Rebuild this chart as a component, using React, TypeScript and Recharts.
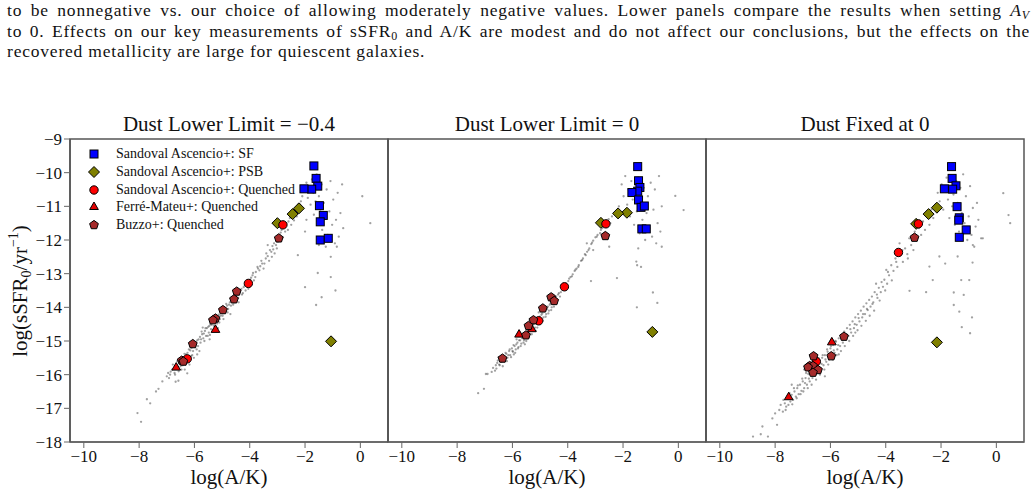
import { ScatterChart, Scatter, XAxis, YAxis, ReferenceArea } from 'recharts'

type Pt = [number, number]

// ---- Dust Lower Limit = -0.4 ----
const cloudLow: Pt[] = [
  [-8.06, -17.14], [-7.93, -17.4], [-7.72, -16.73], [-7.6, -16.85], [-7.39, -16.5], [-7.3, -16.42],
  [-7.16, -16.2], [-7.0, -16.05], [-6.86, -15.91], [-6.68, -16.21], [-6.58, -16.18], [-6.26, -15.96],
  [-6.8, -15.85], [-6.72, -15.95], [-6.65, -15.7], [-6.6, -15.8], [-6.55, -15.62], [-6.5, -15.75],
  [-6.45, -15.5], [-6.4, -15.48], [-6.38, -15.65], [-6.3, -15.4], [-6.25, -15.35], [-6.22, -15.55],
  [-6.15, -15.28], [-6.1, -15.2], [-6.08, -15.42], [-6.0, -15.1], [-5.95, -15.05], [-5.92, -15.25],
  [-5.85, -14.95], [-5.8, -14.88], [-5.78, -15.05], [-5.72, -14.8], [-5.68, -14.92], [-5.62, -14.7],
  [-5.58, -14.85], [-5.55, -14.62], [-5.5, -14.58], [-5.48, -14.75], [-5.42, -14.5], [-5.4, -14.65],
  [-5.35, -14.42], [-5.3, -14.55], [-5.25, -14.35], [-5.2, -14.28], [-5.18, -14.48], [-5.12, -14.22],
  [-5.08, -14.35], [-5.02, -14.15], [-4.98, -14.25], [-4.92, -14.02], [-4.88, -14.1], [-4.82, -13.95],
  [-4.78, -14.05], [-4.72, -13.85], [-4.65, -13.8], [-4.6, -13.92], [-4.55, -13.7], [-4.48, -13.62],
  [-4.42, -13.72], [-4.38, -13.55], [-4.3, -13.45], [-4.25, -13.58], [-6.92, -16.1], [-6.35, -15.85],
  [-5.9, -15.4], [-5.45, -14.95], [-5.7, -14.6], [-6.05, -14.98], [-5.15, -14.62], [-4.7, -14.2],
  [-4.18, -13.35], [-4.1, -13.28], [-4.05, -13.45], [-3.98, -13.18], [-3.9, -13.05], [-3.85, -13.2],
  [-3.78, -12.95], [-3.7, -12.85], [-3.62, -12.78], [-3.55, -12.7], [-3.5, -12.85], [-3.42, -12.55],
  [-3.35, -12.48], [-3.3, -12.62], [-3.22, -12.35], [-3.15, -12.28], [-3.1, -12.4], [-3.05, -12.15],
  [-2.98, -12.05], [-3.35, -12.15], [-3.2, -12.5], [-2.92, -11.85], [-2.85, -11.7], [-2.8, -11.92],
  [-2.75, -11.6], [-2.68, -11.5], [-2.62, -11.7], [-2.55, -11.35], [-2.5, -11.55], [-2.45, -11.2],
  [-2.4, -11.42], [-2.35, -11.1], [-2.3, -11.3], [-2.25, -10.95], [-2.2, -11.15], [-2.15, -10.85],
  [-2.1, -10.7], [-2.05, -10.55], [-1.95, -10.3], [-1.9, -10.75], [-1.85, -10.45], [-1.8, -10.95],
  [-1.75, -10.2], [-1.7, -10.6], [-1.68, -11.25], [-1.62, -10.85], [-1.58, -10.05], [-1.55, -11.45],
  [-1.5, -10.7], [-1.45, -11.1], [-1.4, -10.35], [-1.38, -11.7], [-1.32, -10.9], [-1.28, -11.35],
  [-1.22, -10.5], [-1.18, -11.85], [-1.12, -11.15], [-1.08, -10.25], [-1.02, -11.55], [-0.98, -10.8],
  [-0.92, -12.1], [-0.88, -11.4], [-0.82, -10.6], [-0.78, -11.9], [-0.72, -11.2], [-0.66, -10.35],
  [-0.62, -11.65], [-1.5, -12.15], [-1.25, -12.2], [-0.85, -12.2], [-1.95, -11.4], [-2.0, -11.75],
  [0.07, -10.7], [0.36, -11.5], [-2.26, -12.45], [-1.07, -12.5], [-1.54, -12.98], [-1.07, -13.1],
  [-0.9, -13.5], [-1.6, -13.93], [-2.0, -13.4], [-1.4, -13.7],
  [-6.95, -15.95], [-6.88, -16.0], [-6.78, -15.7], [-6.7, -16.0], [-6.62, -15.6], [-6.57, -15.9],
  [-6.52, -15.55], [-6.47, -15.85], [-6.42, -15.72], [-6.36, -15.38], [-6.33, -15.6], [-6.27, -15.5],
  [-6.2, -15.25], [-6.18, -15.7], [-6.12, -15.45], [-6.05, -15.3], [-6.02, -15.5], [-5.97, -15.18],
  [-5.9, -14.98], [-5.87, -15.15], [-5.82, -15.3], [-5.76, -14.95], [-5.74, -14.72], [-5.66, -14.78],
  [-5.64, -15.0], [-5.6, -14.62], [-5.52, -14.85], [-5.46, -14.55], [-5.44, -14.82], [-5.38, -14.52],
  [-5.32, -14.7], [-5.28, -14.45], [-5.22, -14.58], [-5.16, -14.3], [-5.1, -14.45], [-5.05, -14.25],
  [-5.0, -14.05], [-4.95, -14.35], [-4.9, -14.15], [-4.85, -13.9], [-4.8, -14.15], [-4.75, -13.92],
  [-4.68, -13.95], [-4.62, -13.72], [-4.57, -13.85], [-4.5, -13.75], [-4.45, -13.58], [-4.4, -13.85],
  [-4.35, -13.5], [-4.28, -13.62], [-4.22, -13.4], [-4.15, -13.5], [-4.08, -13.2], [-4.0, -13.3],
  [-3.95, -13.12], [-3.88, -12.98], [-3.8, -13.1], [-3.72, -12.8], [-3.65, -12.9], [-3.58, -12.62],
  [-3.47, -12.7], [-3.4, -12.4], [-3.27, -12.3], [-3.18, -12.18], [-3.12, -12.1], [-3.02, -12.25],
  [-2.95, -11.95], [-2.88, -11.78], [-2.72, -11.75], [-2.6, -11.45], [-2.52, -11.3], [-2.38, -11.25],
  [-2.28, -11.05], [-2.18, -10.95],
]
const sfLow: Pt[] = [
  [-1.68, -9.8], [-1.6, -10.17], [-1.54, -10.4], [-1.76, -10.49], [-2.04, -10.48],
  [-1.48, -10.98], [-1.34, -11.27], [-1.45, -11.46], [-1.45, -12.0], [-1.16, -11.95],
]
const psbLow: Pt[] = [[-2.22, -11.06], [-2.45, -11.23], [-3.0, -11.5], [-1.06, -15.01]]
const sandQLow: Pt[] = [[-2.8, -11.55], [-4.05, -13.29], [-6.26, -15.53]]
const ferreLow: Pt[] = [[-6.66, -15.79], [-5.24, -14.67]]
const buzzoLow: Pt[] = [
  [-2.95, -11.95], [-4.47, -13.53], [-4.57, -13.76], [-4.97, -14.08], [-5.24, -14.33],
  [-5.33, -14.38], [-6.06, -15.09], [-6.46, -15.58], [-6.4, -15.61],
]

// ---- Dust Lower Limit = 0 ----
const cloudZero: Pt[] = [
  [-7.24, -16.55], [-7.03, -16.42], [-6.96, -15.98], [-6.9, -15.98], [-6.75, -15.92], [-6.7, -15.8],
  [-6.63, -15.88], [-6.6, -15.72], [-6.55, -15.65], [-6.48, -15.7], [-6.45, -15.55], [-6.4, -15.62],
  [-6.32, -15.45], [-6.28, -15.58], [-6.22, -15.38], [-6.18, -15.5], [-6.12, -15.3], [-6.08, -15.42],
  [-6.02, -15.22], [-5.98, -15.32], [-5.92, -15.15], [-5.88, -15.25], [-5.82, -15.05], [-5.78, -15.18],
  [-5.72, -14.98], [-5.68, -15.08], [-5.62, -14.88], [-5.58, -14.98], [-5.52, -14.78], [-5.48, -14.9],
  [-5.42, -14.68], [-5.38, -14.8], [-5.32, -14.58], [-5.28, -14.7], [-5.22, -14.48], [-5.18, -14.6],
  [-5.12, -14.38], [-5.08, -14.5], [-5.02, -14.28], [-4.98, -14.4], [-4.92, -14.18], [-4.88, -14.3],
  [-4.82, -14.08], [-4.78, -14.2], [-4.72, -13.98], [-4.68, -14.1], [-4.62, -13.88], [-4.58, -14.0],
  [-4.52, -13.78], [-4.48, -13.9], [-4.42, -13.68], [-4.38, -13.78], [-4.32, -13.58], [-4.28, -13.68],
  [-6.35, -15.75], [-5.95, -15.4], [-5.55, -15.1], [-5.15, -14.7], [-6.5, -15.48], [-5.85, -14.95],
  [-5.05, -14.15], [-4.2, -13.48], [-4.12, -13.4], [-4.05, -13.3], [-3.98, -13.22], [-3.9, -13.1],
  [-3.82, -13.02], [-3.75, -12.92], [-3.68, -12.85], [-3.6, -12.75], [-3.52, -12.62], [-3.45, -12.55],
  [-3.38, -12.42], [-3.31, -12.1], [-3.3, -12.35], [-3.22, -12.25], [-3.15, -12.12], [-3.08, -12.02],
  [-3.08, -12.3], [-3.0, -11.92], [-2.92, -11.85], [-2.83, -11.8], [-2.75, -11.65], [-2.68, -11.55],
  [-2.58, -11.45], [-2.46, -11.5], [-2.4, -11.3], [-2.3, -11.2], [-2.22, -11.11], [-2.15, -11.0],
  [-2.05, -10.35], [-1.98, -10.7], [-1.92, -10.1], [-1.85, -10.95], [-1.8, -10.5], [-1.75, -11.3],
  [-1.7, -10.25], [-1.65, -10.8], [-1.6, -11.55], [-1.55, -10.6], [-1.5, -11.15], [-1.45, -10.15],
  [-1.4, -11.8], [-1.35, -10.9], [-1.3, -11.4], [-1.25, -10.45], [-1.2, -12.0], [-1.15, -11.2],
  [-1.1, -10.7], [-1.05, -11.65], [-1.0, -10.3], [-0.95, -11.9], [-0.9, -11.1], [-0.85, -10.5],
  [-0.8, -12.1], [-0.75, -11.5], [-0.7, -10.1], [-0.65, -11.75], [-0.6, -12.2], [-1.45, -12.25],
  [-0.11, -10.69], [0.19, -11.11], [-1.52, -12.64], [-1.49, -12.75], [-1.35, -12.8], [-2.22, -13.13],
  [-0.92, -13.56], [-0.76, -13.87], [-3.16, -13.22], [-1.5, -14.0], [-2.5, -12.2], [-0.6, -11.0],
  [-6.58, -15.82], [-6.53, -15.58], [-6.46, -15.72], [-6.42, -15.48], [-6.37, -15.6], [-6.3, -15.52],
  [-6.25, -15.35], [-6.2, -15.6], [-6.15, -15.42], [-6.1, -15.25], [-6.05, -15.48], [-6.0, -15.3],
  [-5.96, -15.12], [-5.9, -15.35], [-5.86, -15.1], [-5.8, -15.22], [-5.76, -14.98], [-5.7, -15.15],
  [-5.65, -14.92], [-5.6, -15.05], [-5.56, -14.82], [-5.5, -15.0], [-5.45, -14.72], [-5.4, -14.88],
  [-5.35, -14.62], [-5.3, -14.8], [-5.25, -14.52], [-5.2, -14.7], [-5.16, -14.42], [-5.1, -14.6],
  [-5.06, -14.35], [-5.0, -14.5], [-4.95, -14.22], [-4.9, -14.4], [-4.85, -14.12], [-4.8, -14.28],
  [-4.75, -14.05], [-4.7, -14.18], [-4.65, -13.92], [-4.6, -14.08], [-4.55, -13.82], [-4.5, -13.98],
  [-4.45, -13.72], [-4.4, -13.88], [-4.35, -13.62], [-4.25, -13.55], [-4.15, -13.45], [-4.08, -13.35],
  [-3.95, -13.15], [-3.85, -13.08], [-3.72, -12.88], [-3.62, -12.8], [-3.48, -12.6], [-3.35, -12.45],
  [-3.25, -12.3], [-3.12, -12.08], [-2.95, -11.9], [-2.8, -11.7], [-2.62, -11.5], [-2.52, -11.38],
]
const sfZero: Pt[] = [
  [-1.47, -9.82], [-1.44, -10.24], [-1.39, -10.44], [-1.47, -10.55], [-1.68, -10.59],
  [-1.44, -10.81], [-1.35, -11.03], [-1.23, -10.99], [-1.32, -11.67], [-1.16, -11.67],
]
const psbZero: Pt[] = [[-1.86, -11.19], [-2.18, -11.21], [-2.8, -11.49], [-0.94, -14.73]]
const sandQZero: Pt[] = [[-2.62, -11.52], [-4.12, -13.39], [-5.05, -14.4]]
const ferreZero: Pt[] = [[-5.76, -14.81], [-5.3, -14.65]]
const buzzoZero: Pt[] = [
  [-2.64, -11.88], [-4.6, -13.7], [-4.49, -13.81], [-4.9, -14.03], [-5.24, -14.38],
  [-5.42, -14.55], [-5.51, -14.83], [-6.36, -15.52],
]

// ---- Dust Fixed at 0 ----
const cloudFixed: Pt[] = [
  [-8.8, -17.84], [-8.52, -17.77], [-8.26, -17.84], [-8.46, -17.54], [-8.1, -17.3], [-7.93, -17.49],
  [-8.0, -17.15], [-7.85, -17.05], [-7.8, -16.9], [-7.72, -17.1], [-7.65, -16.85], [-7.6, -16.95],
  [-7.55, -16.7], [-7.45, -16.8], [-7.4, -16.6], [-7.35, -16.75], [-7.3, -16.5], [-7.25, -16.65],
  [-7.2, -16.4], [-7.15, -16.58], [-7.1, -16.3], [-7.05, -16.48], [-7.0, -16.2], [-6.95, -16.4],
  [-6.9, -16.1], [-6.85, -16.3], [-6.8, -15.98], [-6.75, -16.2], [-6.7, -15.9], [-6.65, -16.1],
  [-6.6, -15.8], [-6.55, -16.0], [-6.5, -15.7], [-6.45, -15.92], [-6.4, -15.6], [-6.35, -15.82],
  [-6.3, -15.5], [-6.25, -15.72], [-6.2, -15.42], [-6.15, -15.62], [-6.1, -15.32], [-6.05, -15.55],
  [-6.0, -15.22], [-5.95, -15.45], [-5.9, -15.12], [-5.85, -15.35], [-5.8, -15.02], [-5.75, -15.25],
  [-5.7, -14.92], [-5.65, -15.15], [-5.6, -14.82], [-5.55, -15.05], [-5.5, -14.72], [-5.45, -14.95],
  [-5.4, -14.62], [-5.35, -14.85], [-5.3, -14.52], [-5.25, -14.75], [-5.2, -14.42], [-5.15, -14.62],
  [-5.1, -14.3], [-5.05, -14.52], [-5.0, -14.2], [-4.95, -14.42], [-4.9, -14.1], [-4.85, -14.3],
  [-4.8, -13.98], [-4.75, -14.2], [-4.7, -13.88], [-4.65, -14.08], [-4.6, -13.78], [-4.55, -13.98],
  [-4.5, -13.68], [-4.45, -13.85], [-4.4, -13.55], [-4.35, -13.3], [-4.3, -13.72], [-4.25, -13.42],
  [-4.18, -13.55], [-4.1, -13.39], [-4.05, -13.18], [-3.98, -12.89], [-3.95, -13.3], [-3.88, -13.05],
  [-3.8, -12.75], [-3.72, -12.92], [-3.65, -12.55], [-3.58, -12.8], [-3.5, -12.1], [-3.45, -12.45],
  [-3.38, -12.65], [-3.3, -12.25], [-3.22, -12.42], [-3.15, -11.95], [-3.08, -12.15], [-3.0, -12.3],
  [-2.95, -11.75], [-2.88, -12.0], [-2.8, -11.65], [-2.72, -11.85], [-2.65, -11.45], [-2.58, -11.7],
  [-2.5, -11.3], [-2.42, -11.55], [-2.35, -11.1], [-2.28, -11.35], [-2.2, -10.95], [-6.95, -15.85],
  [-6.2, -16.05], [-5.7, -15.4], [-7.4, -16.3], [-5.1, -14.75], [-2.12, -10.6], [-2.05, -10.85],
  [-1.98, -10.35], [-1.92, -11.1], [-1.85, -10.55], [-1.8, -10.15], [-1.75, -10.8], [-1.7, -11.35],
  [-1.65, -10.4], [-1.6, -11.0], [-1.55, -10.65], [-1.5, -11.55], [-1.45, -10.25], [-1.4, -10.9],
  [-1.35, -11.75], [-1.3, -10.45], [-1.25, -11.2], [-1.2, -10.05], [-1.15, -11.5], [-1.1, -10.7],
  [-1.05, -12.0], [-1.0, -11.3], [-0.95, -10.4], [-0.9, -11.85], [-0.85, -11.05], [-0.8, -12.2],
  [-0.75, -11.6], [-0.7, -10.9], [-0.65, -11.4], [-0.55, -11.95], [-0.49, -11.95], [-0.85, -12.15],
  [0.25, -10.61], [0.44, -11.26], [0.5, -11.5], [-2.42, -12.79], [-2.06, -12.49], [-1.85, -12.7],
  [-1.4, -12.49], [-0.86, -12.67], [-1.27, -13.19], [-0.98, -13.19], [-2.3, -13.19], [-2.54, -13.55],
  [-3.14, -13.51], [-1.54, -13.56], [-1.18, -13.63], [-1.54, -13.93], [-1.34, -14.13], [-0.88, -14.3],
  [-1.25, -14.59], [-0.95, -14.77],
  [-7.7, -16.75], [-7.62, -17.05], [-7.52, -16.9], [-7.48, -16.55], [-7.38, -16.88], [-7.32, -16.4],
  [-7.22, -16.7], [-7.18, -16.32], [-7.08, -16.58], [-7.02, -16.12], [-6.98, -16.5], [-6.92, -16.25],
  [-6.88, -15.95], [-6.82, -16.4], [-6.78, -16.12], [-6.72, -15.82], [-6.68, -16.3], [-6.62, -15.95],
  [-6.58, -15.7], [-6.52, -16.15], [-6.48, -15.82], [-6.42, -15.52], [-6.38, -16.0], [-6.32, -15.68],
  [-6.28, -15.42], [-6.22, -15.85], [-6.18, -15.55], [-6.12, -15.25], [-6.08, -15.7], [-6.02, -15.4],
  [-5.98, -15.15], [-5.92, -15.55], [-5.88, -15.28], [-5.82, -15.0], [-5.78, -15.42], [-5.72, -15.12],
  [-5.62, -15.3], [-5.58, -14.95], [-5.48, -15.15], [-5.42, -14.8], [-5.32, -15.0], [-5.28, -14.65],
  [-5.18, -14.85], [-5.12, -14.5], [-5.02, -14.68], [-4.98, -14.32], [-4.88, -14.55], [-4.82, -14.2],
  [-4.72, -14.4], [-4.68, -14.05], [-4.58, -14.25], [-4.48, -13.9], [-4.42, -14.1], [-4.32, -13.62],
  [-4.22, -13.8], [-4.15, -13.25], [-4.02, -13.5], [-3.92, -12.95], [-3.78, -13.2], [-3.62, -12.65],
  [-3.4, -12.3], [-3.2, -12.55], [-3.05, -11.9], [-2.85, -11.55],
]
const sfFixed: Pt[] = [
  [-1.62, -9.82], [-1.6, -10.17], [-1.46, -10.39], [-1.58, -10.49], [-1.88, -10.48],
  [-1.42, -11.01], [-1.34, -11.34], [-1.36, -11.41], [-1.09, -11.7], [-1.34, -11.92],
]
const psbFixed: Pt[] = [[-2.15, -11.04], [-2.45, -11.23], [-2.9, -11.52], [-2.15, -15.04]]
const sandQFixed: Pt[] = [[-2.82, -11.52], [-3.54, -12.37], [-6.51, -15.61]]
const ferreFixed: Pt[] = [[-5.95, -15.04], [-7.51, -16.67]]
const buzzoFixed: Pt[] = [
  [-2.96, -11.93], [-5.51, -14.87], [-5.97, -15.45], [-6.61, -15.45], [-6.75, -15.74],
  [-6.63, -15.74], [-6.81, -15.78], [-6.45, -15.86], [-6.63, -15.94],
]

const X_TICKS = [-10, -8, -6, -4, -2, 0]
const Y_TICKS = [-18, -17, -16, -15, -14, -13, -12, -11, -10, -9]
const LEGEND_LABELS = [
  'Sandoval Ascencio+: SF',
  'Sandoval Ascencio+: PSB',
  'Sandoval Ascencio+: Quenched',
  'Ferré-Mateu+: Quenched',
  'Buzzo+: Quenched',
]
const KINDS = ['sf', 'psb', 'sandQ', 'ferre', 'buzzo'] as const
type Kind = (typeof KINDS)[number]

const FONT = '"Liberation Serif", "Times New Roman", serif'
const COLORS: Record<Kind, string> = {
  sf: '#0000ff',
  psb: '#808000',
  sandQ: '#ff0000',
  ferre: '#e00000',
  buzzo: '#a52a2a',
}

const toXY = (pts: Pt[]) => pts.map(([x, y]) => ({ x, y }))
const fmt = (v: number) => String(v).replace('-', '\u2212')

function Marker({ kind, cx, cy }: { kind: Kind; cx: number; cy: number }) {
  const common = { fill: COLORS[kind], stroke: '#000', strokeWidth: 1 }
  if (kind === 'sf') return <rect x={cx - 4} y={cy - 4} width={8} height={8} {...common} />
  if (kind === 'psb') {
    const d = 5.5
    return <polygon points={`${cx},${cy - d} ${cx + d},${cy} ${cx},${cy + d} ${cx - d},${cy}`} {...common} />
  }
  if (kind === 'sandQ') return <circle cx={cx} cy={cy} r={4.2} {...common} />
  if (kind === 'ferre') {
    const r = 5
    return (
      <polygon
        points={`${cx},${cy - r} ${cx + r * 0.87},${cy + r * 0.5} ${cx - r * 0.87},${cy + r * 0.5}`}
        {...common}
      />
    )
  }
  const r = 4.6
  const pts = [0, 1, 2, 3, 4]
    .map((k) => {
      const a = (-90 + k * 72) * (Math.PI / 180)
      return `${cx + r * Math.cos(a)},${cy + r * Math.sin(a)}`
    })
    .join(' ')
  return <polygon points={pts} {...common} />
}

interface PanelProps {
  left: number
  title: string
  showYLabels: boolean
  cloud: Pt[]
  groups: Record<Kind, Pt[]>
}

const PLOT_W = 318

function Panel({ left, title, showYLabels, cloud, groups }: PanelProps) {
  const tickStyle = { fontSize: 17, fill: '#111', fontFamily: FONT }
  return (
    <>
      <div style={{ position: 'absolute', left: left - 60, top: 0 }}>
        <ScatterChart width={PLOT_W + 70} height={495} margin={{ top: 139, right: 10, bottom: 23, left: 0 }}>
          <XAxis
            type="number"
            dataKey="x"
            domain={[-10.5, 1]}
            ticks={X_TICKS}
            allowDataOverflow
            height={30}
            tickSize={6}
            tickFormatter={fmt}
            tick={tickStyle}
            stroke="#666"
            axisLine={{ stroke: '#666', strokeWidth: 1.5 }}
          />
          <YAxis
            type="number"
            dataKey="y"
            domain={[-18, -9]}
            ticks={Y_TICKS}
            allowDataOverflow
            width={60}
            tickSize={6}
            tickFormatter={fmt}
            tick={showYLabels ? tickStyle : false}
            stroke="#666"
            axisLine={{ stroke: '#555', strokeWidth: 1.5 }}
          />
          <ReferenceArea
            x1={-10.5}
            x2={1}
            y1={-18}
            y2={-9}
            fill="none"
            fillOpacity={0}
            stroke="#555"
            strokeWidth={1.5}
            ifOverflow="visible"
          />
          <Scatter
            data={toXY(cloud)}
            isAnimationActive={false}
            shape={(p: any) => <circle cx={p.cx} cy={p.cy} r={1.15} fill="#444" fillOpacity={0.5} />}
          />
          {KINDS.map((k) => (
            <Scatter
              key={k}
              data={toXY(groups[k])}
              isAnimationActive={false}
              shape={(p: any) => <Marker kind={k} cx={p.cx} cy={p.cy} />}
            />
          ))}
        </ScatterChart>
      </div>
      <div
        style={{
          position: 'absolute',
          left,
          width: PLOT_W,
          top: 112,
          lineHeight: '24px',
          fontSize: 21,
          textAlign: 'center',
          fontFamily: FONT,
          color: '#111',
        }}
      >
        {title.replace('-', '\u2212')}
      </div>
      <div
        style={{
          position: 'absolute',
          left,
          width: PLOT_W,
          top: 467,
          height: 21,
          lineHeight: '21px',
          fontSize: 21,
          textAlign: 'center',
          fontFamily: FONT,
          color: '#111',
        }}
      >
        log(A/K)
      </div>
    </>
  )
}

function LegendBox() {
  return (
    <div style={{ position: 'absolute', left: 86, top: 145, fontFamily: FONT, fontSize: 14, color: '#111' }}>
      {KINDS.map((k, i) => (
        <div key={k} style={{ position: 'absolute', top: i * 17.8, left: 0, height: 18, whiteSpace: 'nowrap' }}>
          <svg width={16} height={18} style={{ position: 'absolute', left: 0, top: 0 }}>
            <Marker kind={k} cx={8} cy={9} />
          </svg>
          <span style={{ position: 'absolute', left: 30, top: 0, lineHeight: '18px' }}>{LEGEND_LABELS[i]}</span>
        </div>
      ))}
    </div>
  )
}

export default function App() {
  const lineStyle = {
    textAlign: 'justify' as const,
    textAlignLast: 'justify' as const,
    height: 20.7,
    lineHeight: '20.7px',
  }
  return (
    <div
      style={{
        position: 'absolute',
        left: 0,
        top: 0,
        width: 1034,
        height: 495,
        background: '#fff',
        overflow: 'hidden',
        fontFamily: FONT,
      }}
    >
      <div
        style={{
          position: 'absolute',
          left: 7,
          top: 0,
          width: 1023,
          fontSize: 17.5,
          letterSpacing: '0.8px',
          fontFamily: FONT,
          color: '#111',
        }}
      >
        <div style={lineStyle}>
          to be nonnegative vs. our choice of allowing moderately negative values. Lower panels compare the results
          when setting <i>A</i>
          <span style={{ fontSize: 12, verticalAlign: '-3px', lineHeight: 0, fontStyle: 'italic' }}>V</span>
        </div>
        <div style={lineStyle}>
          to 0. Effects on our key measurements of sSFR
          <span style={{ fontSize: 12, verticalAlign: '-3px', lineHeight: 0 }}>0</span> and A/K are modest and do not
          affect our conclusions, but the effects on the
        </div>
        <div style={{ height: 20.7, lineHeight: '20.7px' }}>
          recovered metallicity are large for quiescent galaxies.
        </div>
      </div>

      <Panel left={70} title="Dust Lower Limit = -0.4" showYLabels cloud={cloudLow}
        groups={{ sf: sfLow, psb: psbLow, sandQ: sandQLow, ferre: ferreLow, buzzo: buzzoLow }} />
      <Panel left={388} title="Dust Lower Limit = 0" showYLabels={false} cloud={cloudZero}
        groups={{ sf: sfZero, psb: psbZero, sandQ: sandQZero, ferre: ferreZero, buzzo: buzzoZero }} />
      <Panel left={706} title="Dust Fixed at 0" showYLabels={false} cloud={cloudFixed}
        groups={{ sf: sfFixed, psb: psbFixed, sandQ: sandQFixed, ferre: ferreFixed, buzzo: buzzoFixed }} />

      <LegendBox />

      <div
        style={{
          position: 'absolute',
          left: 20 - 110,
          top: 291 - 12,
          width: 220,
          height: 24,
          lineHeight: '24px',
          fontSize: 21,
          textAlign: 'center',
          transform: 'rotate(-90deg)',
          color: '#111',
          whiteSpace: 'nowrap',
        }}
      >
        log(sSFR<span style={{ fontSize: 14, verticalAlign: '-4px', lineHeight: 0 }}>0</span>/yr
        <span style={{ fontSize: 14, verticalAlign: '9px', lineHeight: 0 }}>{'\u22121'}</span>)
      </div>
    </div>
  )
}
